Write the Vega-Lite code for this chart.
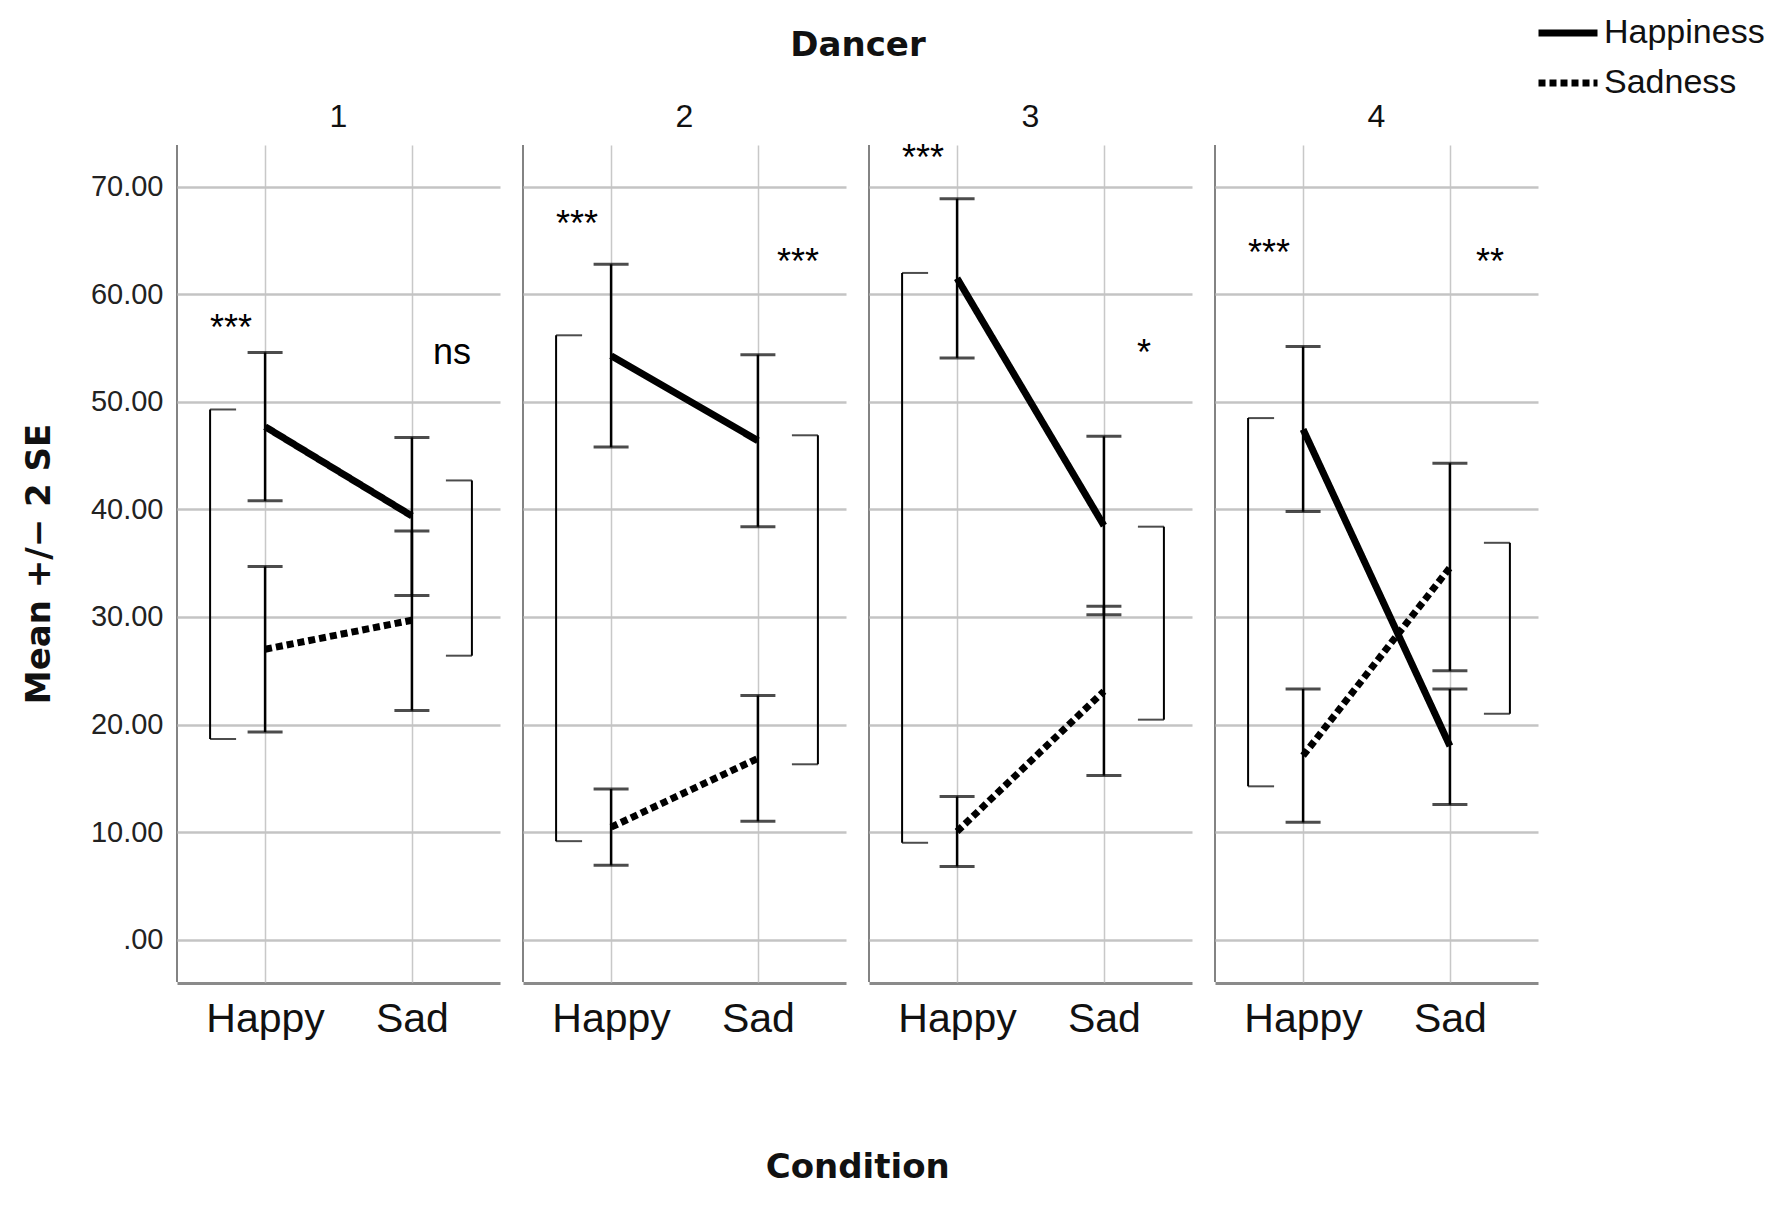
{
  "$schema": "https://vega.github.io/schema/vega-lite/v6.json",
  "padding": {"left": 22, "top": 0, "right": 5, "bottom": 5},
  "title": {
    "text": "Condition",
    "orient": "bottom",
    "frame": "bounds",
    "anchor": "middle",
    "font": "DejaVu Sans",
    "fontSize": 34,
    "fontWeight": "bold",
    "color": "#111111",
    "offset": 112,
    "dx": -36
  },
  "data": {
    "values": [
      {"kind": "pt", "dancer": 1, "emotion": "Happiness", "condition": "Happy", "mean": 47.7, "lo": 40.8, "hi": 54.6},
      {"kind": "pt", "dancer": 1, "emotion": "Happiness", "condition": "Sad", "mean": 39.4, "lo": 32.0, "hi": 46.7},
      {"kind": "pt", "dancer": 1, "emotion": "Sadness", "condition": "Happy", "mean": 27.0, "lo": 19.3, "hi": 34.7},
      {"kind": "pt", "dancer": 1, "emotion": "Sadness", "condition": "Sad", "mean": 29.7, "lo": 21.3, "hi": 38.0},
      {"kind": "pt", "dancer": 2, "emotion": "Happiness", "condition": "Happy", "mean": 54.3, "lo": 45.8, "hi": 62.8},
      {"kind": "pt", "dancer": 2, "emotion": "Happiness", "condition": "Sad", "mean": 46.4, "lo": 38.4, "hi": 54.4},
      {"kind": "pt", "dancer": 2, "emotion": "Sadness", "condition": "Happy", "mean": 10.45, "lo": 6.9, "hi": 14.0},
      {"kind": "pt", "dancer": 2, "emotion": "Sadness", "condition": "Sad", "mean": 16.85, "lo": 11.0, "hi": 22.7},
      {"kind": "pt", "dancer": 3, "emotion": "Happiness", "condition": "Happy", "mean": 61.5, "lo": 54.1, "hi": 68.9},
      {"kind": "pt", "dancer": 3, "emotion": "Happiness", "condition": "Sad", "mean": 38.5, "lo": 30.2, "hi": 46.8},
      {"kind": "pt", "dancer": 3, "emotion": "Sadness", "condition": "Happy", "mean": 10.05, "lo": 6.8, "hi": 13.3},
      {"kind": "pt", "dancer": 3, "emotion": "Sadness", "condition": "Sad", "mean": 23.1, "lo": 15.25, "hi": 31.0},
      {"kind": "pt", "dancer": 4, "emotion": "Happiness", "condition": "Happy", "mean": 47.45, "lo": 39.8, "hi": 55.15},
      {"kind": "pt", "dancer": 4, "emotion": "Happiness", "condition": "Sad", "mean": 18.0, "lo": 12.55, "hi": 23.3},
      {"kind": "pt", "dancer": 4, "emotion": "Sadness", "condition": "Happy", "mean": 17.1, "lo": 10.9, "hi": 23.3},
      {"kind": "pt", "dancer": 4, "emotion": "Sadness", "condition": "Sad", "mean": 34.6, "lo": 25.0, "hi": 44.3},
      {"kind": "br", "dancer": 1, "condition": "Happy", "lo": 18.65, "hi": 49.3},
      {"kind": "br", "dancer": 1, "condition": "Sad", "lo": 26.4, "hi": 42.7},
      {"kind": "br", "dancer": 2, "condition": "Happy", "lo": 9.15, "hi": 56.2},
      {"kind": "br", "dancer": 2, "condition": "Sad", "lo": 16.3, "hi": 46.9},
      {"kind": "br", "dancer": 3, "condition": "Happy", "lo": 9.0, "hi": 62.0},
      {"kind": "br", "dancer": 3, "condition": "Sad", "lo": 20.45, "hi": 38.4},
      {"kind": "br", "dancer": 4, "condition": "Happy", "lo": 14.25, "hi": 48.5},
      {"kind": "br", "dancer": 4, "condition": "Sad", "lo": 21.0, "hi": 36.9},
      {"kind": "note", "dancer": 1, "condition": "Happy", "label": "***", "at": 56.8},
      {"kind": "note", "dancer": 1, "condition": "Sad", "label": "ns", "at": 54.6},
      {"kind": "note", "dancer": 2, "condition": "Happy", "label": "***", "at": 66.5},
      {"kind": "note", "dancer": 2, "condition": "Sad", "label": "***", "at": 62.9},
      {"kind": "note", "dancer": 3, "condition": "Happy", "label": "***", "at": 72.6},
      {"kind": "note", "dancer": 3, "condition": "Sad", "label": "*", "at": 54.5},
      {"kind": "note", "dancer": 4, "condition": "Happy", "label": "***", "at": 63.8},
      {"kind": "note", "dancer": 4, "condition": "Sad", "label": "**", "at": 62.9}
    ]
  },
  "facet": {
    "column": {
      "field": "dancer",
      "type": "ordinal",
      "header": {
        "title": "Dancer",
        "titleFont": "DejaVu Sans",
        "titleFontSize": 34,
        "titleFontWeight": "bold",
        "titleColor": "#111111",
        "titlePadding": 28,
        "labelFont": "Liberation Sans",
        "labelFontSize": 32,
        "labelColor": "#111111",
        "labelPadding": 6
      }
    }
  },
  "spacing": 21,
  "spec": {
    "width": 323,
    "height": 837,
    "encoding": {
      "x": {
        "field": "condition",
        "type": "nominal",
        "title": null,
        "scale": {"type": "point", "padding": 0.6, "domain": ["Happy", "Sad"]},
        "axis": {
          "labelAngle": 0,
          "labelFont": "Liberation Sans",
          "labelFontSize": 41,
          "labelColor": "#111111",
          "labelPadding": 16,
          "ticks": false,
          "grid": true,
          "gridColor": "#c8c8c8",
          "gridWidth": 1.5,
          "domainColor": "#8a8a8a",
          "domainWidth": 3
        }
      }
    },
    "layer": [
      {
        "transform": [{"filter": "datum.kind == 'pt'"}],
        "mark": {"type": "line", "color": "black", "strokeWidth": 7, "strokeCap": "butt"},
        "encoding": {
          "y": {
            "field": "mean",
            "type": "quantitative",
            "title": "Mean +/− 2 SE",
            "scale": {"domain": [-3.95, 73.9], "nice": false, "zero": false},
            "axis": {
              "values": [0, 10, 20, 30, 40, 50, 60, 70],
              "labelExpr": "datum.value == 0 ? '.00' : format(datum.value, '.2f')",
              "labelFont": "Liberation Sans",
              "labelFontSize": 29,
              "labelColor": "#222222",
              "labelPadding": 13,
              "ticks": false,
              "domain": false,
              "grid": true,
              "gridColor": "#c4c4c4",
              "gridWidth": 2.5,
              "titleFont": "DejaVu Sans",
              "titleFontSize": 34,
              "titleFontWeight": "bold",
              "titleColor": "#111111",
              "titlePadding": 34
            }
          },
          "strokeDash": {
            "field": "emotion",
            "type": "nominal",
            "scale": {"domain": ["Happiness", "Sadness"], "range": [[1, 0], [7, 4]]},
            "legend": {
              "title": null,
              "orient": "none",
              "legendX": 1358,
              "legendY": -145,
              "symbolType": "stroke",
              "symbolSize": 3481,
              "symbolStrokeWidth": 7,
              "symbolStrokeColor": "black",
              "labelFont": "Liberation Sans",
              "labelFontSize": 34,
              "labelColor": "#111111",
              "labelOffset": 3,
              "labelLimit": 400,
              "rowPadding": 0
            }
          }
        }
      },
      {
        "transform": [{"filter": "datum.kind == 'pt'"}],
        "mark": {"type": "rule", "color": "black", "strokeWidth": 2.5},
        "encoding": {
          "y": {"field": "lo", "type": "quantitative"},
          "y2": {"field": "hi"}
        }
      },
      {
        "transform": [{"filter": "datum.kind == 'pt'"}],
        "mark": {"type": "tick", "orient": "horizontal", "color": "black", "size": 35, "thickness": 3},
        "encoding": {"y": {"field": "lo", "type": "quantitative"}}
      },
      {
        "transform": [{"filter": "datum.kind == 'pt'"}],
        "mark": {"type": "tick", "orient": "horizontal", "color": "black", "size": 35, "thickness": 3},
        "encoding": {"y": {"field": "hi", "type": "quantitative"}}
      },
      {
        "transform": [{"filter": "datum.kind == 'br' && datum.condition == 'Happy'"}],
        "mark": {"type": "rule", "color": "black", "strokeWidth": 2, "xOffset": -55},
        "encoding": {
          "y": {"field": "lo", "type": "quantitative"},
          "y2": {"field": "hi"}
        }
      },
      {
        "transform": [{"filter": "datum.kind == 'br' && datum.condition == 'Happy'"}],
        "mark": {"type": "tick", "orient": "horizontal", "color": "black", "size": 26, "thickness": 2, "xOffset": -42},
        "encoding": {"y": {"field": "lo", "type": "quantitative"}}
      },
      {
        "transform": [{"filter": "datum.kind == 'br' && datum.condition == 'Happy'"}],
        "mark": {"type": "tick", "orient": "horizontal", "color": "black", "size": 26, "thickness": 2, "xOffset": -42},
        "encoding": {"y": {"field": "hi", "type": "quantitative"}}
      },
      {
        "transform": [{"filter": "datum.kind == 'br' && datum.condition == 'Sad'"}],
        "mark": {"type": "rule", "color": "black", "strokeWidth": 2, "xOffset": 60},
        "encoding": {
          "y": {"field": "lo", "type": "quantitative"},
          "y2": {"field": "hi"}
        }
      },
      {
        "transform": [{"filter": "datum.kind == 'br' && datum.condition == 'Sad'"}],
        "mark": {"type": "tick", "orient": "horizontal", "color": "black", "size": 26, "thickness": 2, "xOffset": 47},
        "encoding": {"y": {"field": "lo", "type": "quantitative"}}
      },
      {
        "transform": [{"filter": "datum.kind == 'br' && datum.condition == 'Sad'"}],
        "mark": {"type": "tick", "orient": "horizontal", "color": "black", "size": 26, "thickness": 2, "xOffset": 47},
        "encoding": {"y": {"field": "hi", "type": "quantitative"}}
      },
      {
        "transform": [{"filter": "datum.kind == 'note' && datum.condition == 'Happy'"}],
        "mark": {"type": "text", "font": "Liberation Sans", "fontSize": 36, "color": "black", "baseline": "middle", "dx": -34},
        "encoding": {
          "y": {"field": "at", "type": "quantitative"},
          "text": {"field": "label"}
        }
      },
      {
        "transform": [{"filter": "datum.kind == 'note' && datum.condition == 'Sad'"}],
        "mark": {"type": "text", "font": "Liberation Sans", "fontSize": 36, "color": "black", "baseline": "middle", "dx": 40},
        "encoding": {
          "y": {"field": "at", "type": "quantitative"},
          "text": {"field": "label"}
        }
      }
    ]
  },
  "config": {
    "background": "white",
    "view": {"stroke": "#5a5a5a", "strokeWidth": 1.5, "strokeDash": [0, 1483, 837, 0]}
  }
}
